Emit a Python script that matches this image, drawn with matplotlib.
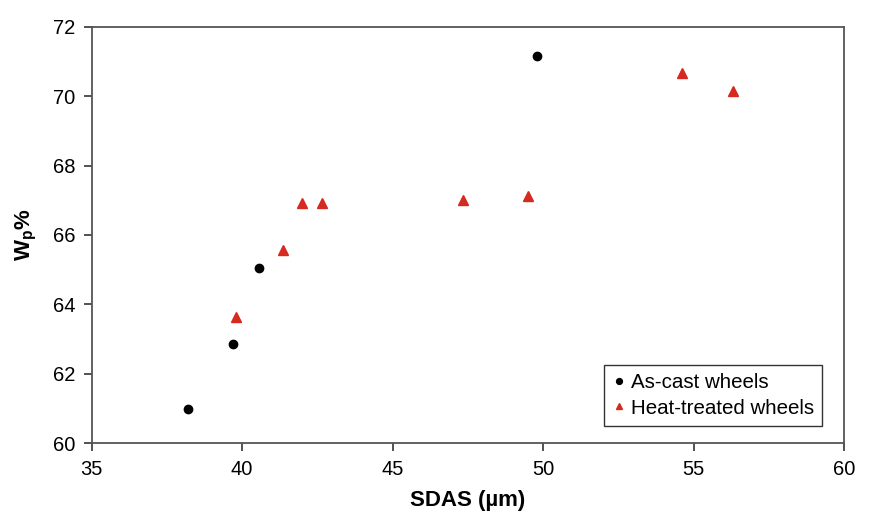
import matplotlib
matplotlib.use("Agg")
from matplotlib import pyplot as plt

# as-cast wheels
cast_sdas = [38.2, 39.7, 40.55, 49.8]
cast_wp = [60.98, 62.85, 65.06, 71.16]

# heat-treated wheels
heat_sdas = [39.8, 41.35, 42.0, 42.65, 47.35, 49.5, 54.6, 56.3]
heat_wp = [63.63, 65.57, 66.93, 66.93, 67.0, 67.12, 70.66, 70.15]

plt.rcParams['font.family'] = ['Liberation Sans', 'DejaVu Sans']
plt.rcParams['mathtext.fontset'] = 'custom'
plt.rcParams['mathtext.rm'] = 'Liberation Sans'
plt.rcParams['mathtext.bf'] = 'Liberation Sans:bold'
plt.rcParams['mathtext.it'] = 'Liberation Sans:italic'

fig = plt.figure(figsize=(8.74, 5.19), dpi=100)
ax = fig.add_axes([0.1049, 0.1459, 0.8608, 0.8027])

ax.plot(cast_sdas, cast_wp, 'o', color='black', ms=6, label='As-cast wheels')
ax.plot(heat_sdas, heat_wp, '^', color='#d42a1f', ms=7, mec='#d42a1f',
        label='Heat-treated wheels')

ax.set_xlim(35, 60)
ax.set_ylim(60, 72)
ax.set_xticks(range(35, 61, 5))
ax.set_yticks(range(60, 73, 2))
ax.tick_params(direction='out', length=6, width=1.2, colors='#333333',
               labelcolor='black', labelsize=14.5, pad=6)

for s in ax.spines.values():
    s.set_color('#555555')
    s.set_linewidth(1.3)

ax.set_xlabel('SDAS (µm)', fontsize=16, fontweight='bold', labelpad=8)
ax.set_ylabel(r'$\mathbf{W_p}$%', fontsize=16, fontweight='bold', labelpad=10)

leg = ax.legend(loc='lower right', fontsize=14.8, markerscale=0.7,
                handlelength=0.6, handletextpad=0.3, borderpad=0.4,
                labelspacing=0.3, fancybox=False, framealpha=1,
                borderaxespad=0, bbox_to_anchor=(0.971, 0.042))
leg.get_frame().set_edgecolor('#333333')
leg.get_frame().set_linewidth(1.0)

plt.savefig('out.png', dpi=100)
